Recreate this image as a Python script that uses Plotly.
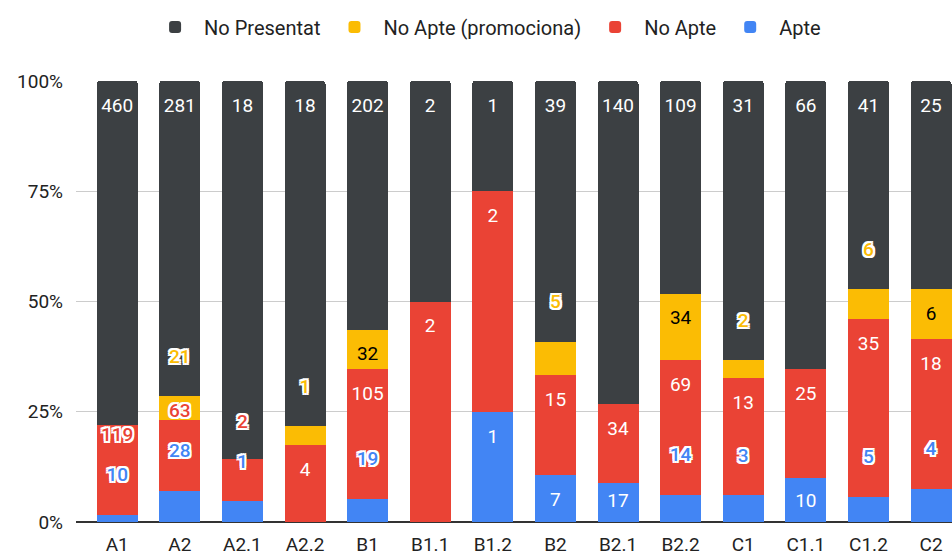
import numpy as np
import plotly.graph_objects as go

categories = ["A1", "A2", "A2.1", "A2.2", "B1", "B1.1", "B1.2", "B2",
              "B2.1", "B2.2", "C1", "C1.1", "C1.2", "C2"]
apte = [10, 28, 1, 0, 19, 0, 1, 7, 17, 14, 3, 10, 5, 4]
no_apte = [119, 63, 2, 4, 105, 2, 2, 15, 34, 69, 13, 25, 35, 18]
no_apte_promo = [0, 21, 0, 1, 32, 0, 0, 5, 0, 34, 2, 0, 6, 6]
no_presentat = [460, 281, 18, 18, 202, 2, 1, 39, 140, 109, 31, 66, 41, 25]
series_names = ["Apte", "No Apte", "No Apte (promociona)", "No Presentat"]
y_ticks = [0, 25, 50, 75, 100]
y_tick_labels = ["0%", "25%", "50%", "75%", "100%"]

colors = ["#4285f4", "#ea4335", "#fbbc04", "#3c4043"]
inside_text_colors = ["#ffffff", "#ffffff", "#000000", "#ffffff"]

W, H = 952, 560
ML, MR, MT, MB = 76, 0, 81, 38
FONT = "Roboto, Arial, sans-serif"

series = [apte, no_apte, no_apte_promo, no_presentat]
counts = np.array(series, dtype=float)
pct = counts / counts.sum(axis=0) * 100.0

fig = go.Figure()
for name, vals, col in zip(series_names, series, colors):
    fig.add_trace(go.Bar(x=categories, y=vals, name=name, marker_color=col,
                         marker_line_width=0, hoverinfo="skip"))

# ---- data labels: inside-end, or outlined outside when they do not fit ----
plot_h = H - MT - MB
axis_px = H - MB
scale = plot_h / 100.0


def to_px(p):
    return axis_px - p * scale


INSIDE_OFF, OUTSIDE_OFF, FIT_MIN, MIN_GAP, BASE_CLEAR, PAD_TOP = 26, 38, 36, 40, 20, 18

labels = {k: {"in": ([], [], []), "out": ([], [], [])} for k in range(4)}
for i, cat in enumerate(categories):
    prev = None
    cum = 0.0
    for s in range(4):
        v = series[s][i]
        p = pct[s, i]
        bot = to_px(cum)
        top = to_px(cum + p)
        cum += p
        if v == 0:
            continue
        h = bot - top
        if h >= FIT_MIN:
            pos = min(top + INSIDE_OFF, axis_px - BASE_CLEAR)
        else:
            pos = top - OUTSIDE_OFF
        if prev is not None and prev - pos < MIN_GAP:
            pos = prev - MIN_GAP
        inside = h >= FIT_MIN and pos - top >= PAD_TOP and pos + 10 <= bot
        prev = pos
        key = "in" if inside else "out"
        labels[s][key][0].append(cat)
        labels[s][key][1].append((axis_px - pos) / scale)
        labels[s][key][2].append(str(v))

outline = ("-2px -2px 0 #fff, 2px -2px 0 #fff, -2px 2px 0 #fff, 2px 2px 0 #fff, "
           "0 2px 0 #fff, 2px 0 0 #fff, 0 -2px 0 #fff, -2px 0 0 #fff, "
           "0 0 3px rgba(0,0,0,0.35)")
for s in range(4):
    xs, ys, ts = labels[s]["in"]
    if xs:
        fig.add_trace(go.Scatter(x=xs, y=ys, text=ts, mode="text", showlegend=False,
                                 hoverinfo="skip", cliponaxis=False,
                                 textfont=dict(family=FONT, size=19,
                                               color=inside_text_colors[s])))
    xs, ys, ts = labels[s]["out"]
    if xs:
        fig.add_trace(go.Scatter(x=xs, y=ys, text=ts, mode="text", showlegend=False,
                                 hoverinfo="skip", cliponaxis=False,
                                 textfont=dict(family=FONT, size=19, color=colors[s],
                                               weight=500, shadow=outline)))

fig.update_layout(
    width=W, height=H,
    margin=dict(l=ML, r=MR, t=MT, b=MB, pad=0, autoexpand=False),
    barmode="stack", barnorm="percent", bargap=0.345, barcornerradius=3,
    plot_bgcolor="#ffffff", paper_bgcolor="#ffffff",
    font=dict(family=FONT, size=19, color="#222222"),
    legend=dict(orientation="h", traceorder="reversed",
                xref="container", yref="container",
                x=0.5106, y=0.952, xanchor="center", yanchor="middle",
                itemwidth=48,
                font=dict(family=FONT, size=20, color="#222222"),
                itemclick=False),
    xaxis=dict(range=[-0.658, 13.335], showgrid=False, ticks="",
               ticklabelstandoff=9,
               tickfont=dict(family=FONT, size=19, color="#222222"),
               showline=False, zeroline=False),
    yaxis=dict(range=[0, 100], tickmode="array", tickvals=y_ticks,
               ticktext=y_tick_labels,
               showgrid=True, gridcolor="#cccccc", gridwidth=1,
               zeroline=True, zerolinecolor="#333333", zerolinewidth=2,
               ticks="", ticklabelstandoff=12,
               tickfont=dict(family=FONT, size=19, color="#222222")),
)

fig.write_html("out.html", config={"displayModeBar": False},
               post_script="document.body.style.margin='0';"
                           "document.body.style.overflow='hidden';")
